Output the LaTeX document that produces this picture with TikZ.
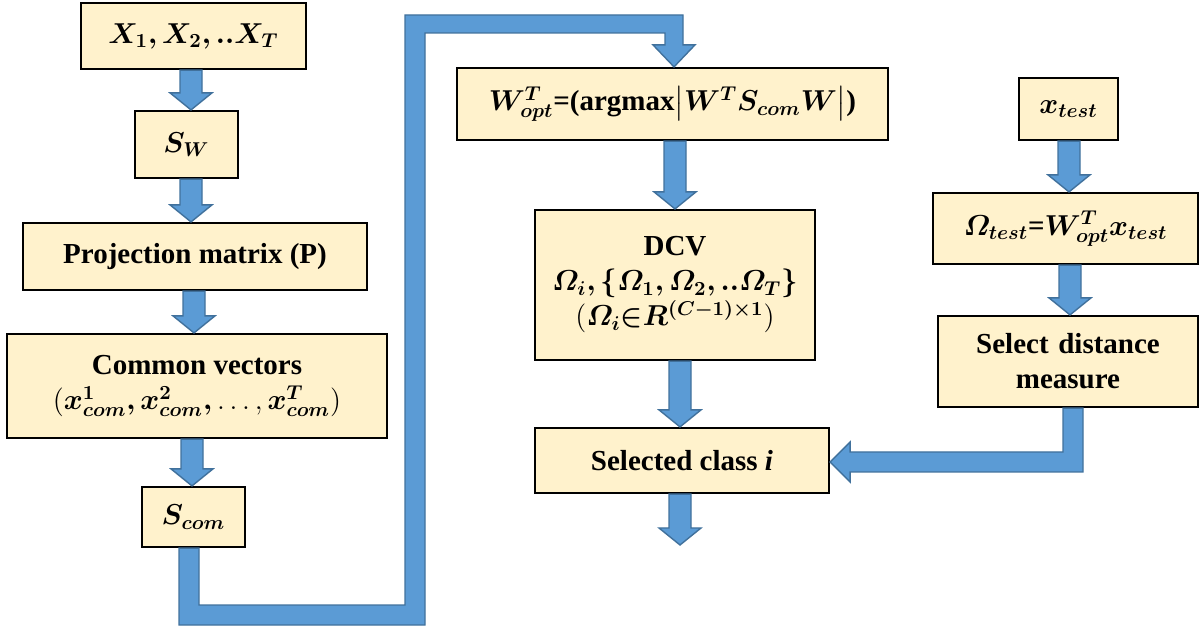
\documentclass[tikz,border=0pt]{standalone}
\usepackage{amsmath}
\usepackage{bm}
\usepackage{fontspec}
\setmainfont{Liberation Serif}
\usetikzlibrary{calc}
\definecolor{boxfill}{HTML}{FFF2CC}
\definecolor{arrfill}{HTML}{5B9BD5}
\definecolor{arrline}{HTML}{41719C}
\tikzset{
  stepbox/.style={draw=black, line width=1.1pt, fill=boxfill, align=center, inner sep=0pt,
    font=\fontsize{14.5}{17.5}\selectfont\bfseries},
  blockarrow/.style={draw=arrline, fill=arrfill, line width=0.7pt, line join=miter},
}
% #1 start point, #2 tip point, #3 x centre (px)
\newcommand\barrowdown[3]{%
  \path[blockarrow] let \p1=(#1), \p2=(#2), \p3=(#3,0) in
  ({\x3-5.5pt},\y1) -- ({\x3-5.5pt},{\y2+8.5pt}) -- ({\x3-10.5pt},{\y2+8.5pt}) -- (\x3,\y2)
  -- ({\x3+10.5pt},{\y2+8.5pt}) -- ({\x3+5.5pt},{\y2+8.5pt}) -- ({\x3+5.5pt},\y1) -- cycle;}
\begin{document}
\begin{tikzpicture}[x=0.5pt,y=-0.5pt]
\useasboundingbox (0,0) rectangle (1200,630);
% left column
\node[stepbox, minimum width=112.5pt, minimum height=33pt] (b1) at (193.5,36) {$\bm{X_1, X_2, ..X_T}$};
\node[stepbox, minimum width=51.5pt, minimum height=33.5pt] (b2) at (186.5,144.5) {$\bm{S_W}$};
\node[stepbox, minimum width=172pt, minimum height=33.5pt] (b3) at (195,256.5) {Projection matrix (P)};
\node[stepbox, minimum width=190pt, minimum height=52pt] (b4) at (197,386) {Common vectors\\$(\bm{x^1_{com}, x^2_{com},} \ldots, \bm{x^T_{com}})$};
\node[stepbox, minimum width=51.5pt, minimum height=30pt] (b5) at (193.5,517) {$\bm{S_{com}}$};
% middle column
\node[stepbox, minimum width=215.5pt, minimum height=36pt] (b6) at (672.5,104) {$\bm{W^T_{opt}}$\textbf{=}(argmax$\bm{\big|W^T S_{com} W\big|}$)};
\node[stepbox, minimum width=140pt, minimum height=75pt, text width=138pt] (b7) at (675,285) {DCV\\$\bm{\varOmega_i, \{\varOmega_1, \varOmega_2, ..\varOmega_T\}}$\\$(\bm{\varOmega_i{\in}R^{(C-1)\times 1}})$};
\node[stepbox, minimum width=147pt, minimum height=32.5pt] (b8) at (682,460.5) {Selected class \textit{i}};
\coordinate (endpt) at (680,545);
% right column
\node[stepbox, minimum width=49.5pt, minimum height=31pt] (b9) at (1068.5,109) {$\bm{x_{test}}$};
\node[stepbox, minimum width=132.5pt, minimum height=35.5pt] (b10) at (1065.5,228.5) {$\bm{\varOmega_{test}}$\textbf{=}$\bm{W^T_{opt} x_{test}}$};
\node[stepbox, minimum width=130pt, minimum height=45.5pt, text width=128pt] (b11) at (1068,361.5) {Select distance\\measure};
% straight arrows
\barrowdown{b1.south}{b2.north}{191}
\barrowdown{b2.south}{b3.north}{191}
\barrowdown{b3.south}{b4.north}{194}
\barrowdown{b4.south}{b5.north}{192}
\barrowdown{b6.south}{b7.north}{675}
\barrowdown{b7.south}{b8.north}{680}
\barrowdown{b8.south}{endpt}{680}
\barrowdown{b9.south}{b10.north}{1069}
\barrowdown{b10.south}{b11.north}{1070}
% long connector S_com -> W_opt
\coordinate (c1) at (189,615);
\coordinate (c2) at (415,615);
\coordinate (c3) at (415,24);
\coordinate (c4) at (674,24);
\path[blockarrow] let \p0=(b5.south), \p1=(c1), \p2=(c2), \p3=(c3), \p4=(c4), \p5=(b6.north) in
  ({\x1-5pt},\y0) -- ({\x1-5pt},{\y1-5pt}) -- ({\x2+5pt},{\y2-5pt}) -- ({\x3+5pt},{\y3-4.5pt})
  -- ({\x4-4.5pt},{\y4-4.5pt}) -- ({\x4-4.5pt},{\y5+11pt}) -- ({\x4-10.5pt},{\y5+11pt}) -- (\x4,\y5)
  -- ({\x4+10.5pt},{\y5+11pt}) -- ({\x4+4.5pt},{\y5+11pt}) -- ({\x4+4.5pt},{\y4+4.5pt})
  -- ({\x3-5pt},{\y3+4.5pt}) -- ({\x2-5pt},{\y2+5pt}) -- ({\x1+5pt},{\y1+5pt}) -- ({\x1+5pt},\y0) -- cycle;
% right connector distance measure -> selected class
\coordinate (d1) at (1073,462);
\path[blockarrow] let \p0=(b11.south), \p1=(d1), \p2=(b8.east) in
  ({\x1-5pt},\y0) -- ({\x1-5pt},{\y1+5pt}) -- ({\x2+10pt},{\y1+5pt}) -- ({\x2+10pt},{\y1+10pt})
  -- (\x2,\y1) -- ({\x2+10pt},{\y1-10pt}) -- ({\x2+10pt},{\y1-5pt}) -- ({\x1+5pt},{\y1-5pt})
  -- ({\x1+5pt},\y0) -- cycle;
\end{tikzpicture}
\end{document}
